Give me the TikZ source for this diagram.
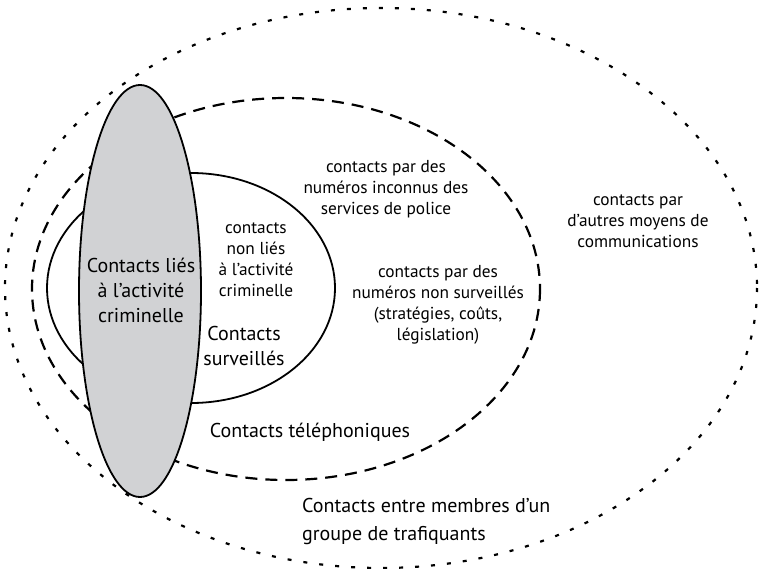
\documentclass[tikz,border=0pt]{standalone}
\usepackage{fontspec}
\setmainfont{PT Sans}
\definecolor{crimgris}{RGB}{209,210,212}
\tikzset{
  grand/.style={font=\fontsize{20}{25}\selectfont, align=center},
  petit/.style={font=\fontsize{17.3}{21}\selectfont, align=center},
  pointille/.style={line width=2.2pt, dash pattern=on 4pt off 12pt},
  tirets/.style={line width=2.2pt, dash pattern=on 12pt off 8pt},
}
\begin{document}
\begin{tikzpicture}[x=1pt,y=-1pt]
        \useasboundingbox (0,0) rectangle (759,569);
        \draw[pointille](381,288) ellipse [x radius=376, y radius=280];
        \draw[tirets](286,289) ellipse [x radius=254, y radius=191];
        \draw[line width=1.8pt, fill=white](191,288) ellipse [x radius=144, y radius=115];
        \draw[line width=1.8pt, fill=crimgris](140,291) ellipse [x radius=61, y radius=206];

        \node (lies) at (141,290)[grand]{Contacts liés\\à l’activité\\criminelle};
        \node (nonlies) at (256,260)[petit]{contacts\\non liés\\à l’activité\\criminelle};
        \node (surv) at (244,346)[grand]{Contacts\\surveillés};
        \node (inconnus) at (386,189)[petit]{contacts par des\\numéros inconnus des\\services de police};
        \node (autres) at (638,221)[petit]{contacts par\\d’autres moyens de\\communications};
        \node (nonsurv) at (438,305)[petit]{contacts par des\\numéros non surveillés\\(stratégies, coûts,\\législation)};
        \node (tel) at (310,432)[grand]{Contacts téléphoniques};
        \node (membres) at (302,521)[grand, align=left, anchor=west, font=\fontsize{20}{28}\selectfont, inner xsep=0pt]{Contacts entre membres d’un\\groupe de trafiquants};

    \end{tikzpicture}
\end{document}
